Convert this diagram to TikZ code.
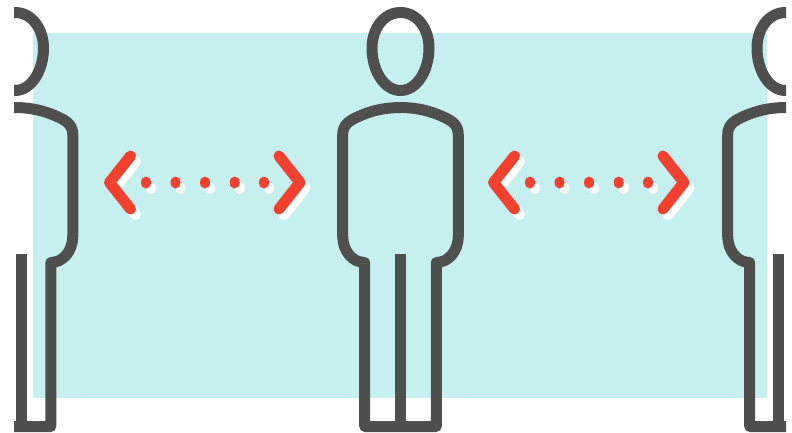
\documentclass[tikz,border=0pt]{standalone}
\definecolor{panelteal}{HTML}{C6F0F0}
\definecolor{figgray}{HTML}{4F4F4F}
\definecolor{arrowred}{HTML}{F4402F}
\tikzset{
  figline/.style={draw=figgray,line width=11pt,line join=round,line cap=butt},
  chev/.style={line width=11pt,line cap=round,line join=round},
}
\newcommand{\personfig}[1]{%
  \begin{scope}[shift={(#1,0)}]
    \draw[figline] (0,12.5) .. controls (17,12.5) and (28.5,29) .. (28.5,48)
      .. controls (28.5,71) and (16,90.5) .. (0,90.5)
      .. controls (-16,90.5) and (-28.5,71) .. (-28.5,48)
      .. controls (-28.5,29) and (-17,12.5) .. (0,12.5) -- cycle;
    \draw[figline] (-35.8,426.5) -- (-35.8,262.5)
      .. controls (-48,262.5) and (-57.8,251) .. (-57.8,236)
      -- (-57.8,135)
      .. controls (-57.8,125) and (-52,121) .. (-42,116.5)
      .. controls (-30,111) and (-16,107.5) .. (0,107.5)
      .. controls (16,107.5) and (30,111) .. (42,116.5)
      .. controls (52,121) and (57.8,125) .. (57.8,135)
      -- (57.8,236)
      .. controls (57.8,251) and (48,262.5) .. (35.8,262.5)
      -- (35.8,426.5) -- cycle;
  \end{scope}}
\newcommand{\arrowmarks}{%
  \draw[chev] (130.5,156) -- (109.5,182.5) -- (130.5,209);
  \draw[chev] (279,156) -- (300,182.5) -- (279,209);
  \foreach \dotx in {146,175.5,205,234.7,264}
    \fill (\dotx,182.5) ellipse (5 and 6);}
\newcommand{\arrowset}[1]{%
  \begin{scope}[shift={(#1,0)}]
    \begin{scope}[shift={(5,5.5)},draw=white,fill=white]
      \arrowmarks
    \end{scope}
    \begin{scope}[draw=arrowred,fill=arrowred]
      \arrowmarks
    \end{scope}
  \end{scope}}
\begin{document}
\begin{tikzpicture}[x=1pt,y=-1pt]
  \useasboundingbox (0,0) rectangle (792,432);
  \fill[panelteal] (33,33) rectangle (767,398);
  \arrowset{0}
  \arrowset{384}
  \begin{scope}
    \clip (14,0) rectangle (786,432);
    \personfig{15}
    \personfig{400.5}
    \personfig{785.5}
  \end{scope}
  \draw[figline] (21,254) -- (21,426);
  \draw[figline] (400.7,254) -- (400.7,426);
  \draw[figline] (778,254) -- (778,426);
\end{tikzpicture}
\end{document}
